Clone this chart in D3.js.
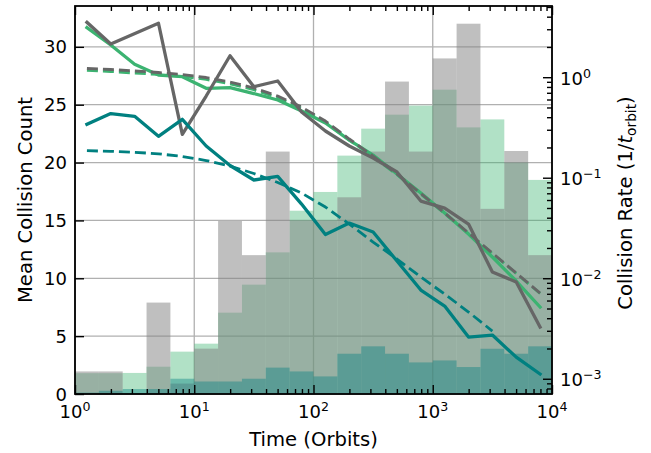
<!DOCTYPE html>
<html><head><meta charset="utf-8">
<script src="https://cdn.jsdelivr.net/npm/d3@7"></script>
<style>body{margin:0;background:#fff} svg{display:block} text{font-family:"DejaVu Sans",sans-serif;fill:#000}</style>
</head><body><div id="chart"></div>
<script>
// ---- data ----
const binEdges = [1, 1.585, 2.512, 3.981, 6.310, 10, 15.85, 25.12, 39.81, 63.10, 100, 158.5, 251.2, 398.1, 631.0, 1000, 1585, 2512, 3981, 6310, 10000];
const binCenters = [1.259, 1.995, 3.162, 5.012, 7.943, 12.59, 19.95, 31.62, 50.12, 79.43, 125.9, 199.5, 316.2, 501.2, 794.3, 1259, 1995, 3162, 5012, 7943];
const greyCounts  = [1.95, 1.95, 0, 7.9, 0.9, 3.92, 14.95, 12.0, 20.95, 15.0, 15.0, 17.0, 20.95, 27.0, 20.95, 29.0, 32.0, 16.0, 21.0, 12.0];
const greenCounts = [1.8, 1.8, 1.82, 2.36, 3.66, 4.35, 7.03, 9.45, 12.24, 15.84, 17.46, 20.6, 22.93, 24.14, 24.92, 26.3, 23.04, 23.73, 20.0, 18.5];
const tealCounts  = [0.12, 0.28, 0.43, 0.43, 1.32, 1.08, 1.08, 1.32, 2.28, 1.95, 1.52, 3.48, 4.12, 3.48, 2.73, 2.9, 2.33, 3.91, 3.48, 4.12];
const greyRate  = [3.52, 2.14, null, 3.44, 0.270, 0.650, 1.636, 0.804, 0.917, 0.450, 0.2915, 0.2067, 0.157, 0.1139, 0.0586, 0.0499, 0.0346, 0.01153, 0.00917, 0.00327];
const greenRate = [3.12, 2.09, 1.344, 1.052, 1.012, 0.775, 0.786, 0.688, 0.593, 0.461, 0.350, 0.237, 0.168, 0.1088, 0.0704, 0.0445, 0.0275, 0.01625, 0.00938, 0.00517];
const tealRate  = [0.340, 0.435, 0.408, 0.258, 0.381, 0.2067, 0.1322, 0.0949, 0.1032, 0.0547, 0.0272, 0.0354, 0.0288, 0.01483, 0.00763, 0.00529, 0.0026, 0.00272, 0.00164, 0.001113];
const greyFit  = [1.221, 1.193, 1.153, 1.114, 1.064, 0.993, 0.896, 0.781, 0.650, 0.505, 0.3665, 0.2427, 0.1644, 0.1088, 0.0696, 0.0445, 0.0282, 0.0178, 0.01126, 0.00712];
const greenFit = [1.17, 1.14, 1.10, 1.065, 1.02, 0.95, 0.86, 0.75, 0.625, 0.49, 0.357, 0.237, 0.161, 0.107, 0.0686, 0.0440, 0.0279, 0.0176, 0.01115, 0.00705];
const tealFit  = [0.1856, 0.1831, 0.179, 0.1729, 0.1626, 0.1483, 0.1307, 0.1101, 0.0896, 0.0704, 0.0511, 0.0346, 0.0229, 0.01552, 0.01028, 0.00696, 0.00461, 0.00298];
const xTickValues = [1, 10, 100, 1000, 10000];
const xTickExponents = ["0", "1", "2", "3", "4"];
const leftTickValues = [0, 5, 10, 15, 20, 25, 30];
const rightTickValues = [0.001, 0.01, 0.1, 1];
const rightTickExponents = ["\u22123", "\u22122", "\u22121", "0"];
const xLabel = "Time (Orbits)";
const yLeftLabel = "Mean Collision Count";

// ---- layout ----
const W = 651, H = 453;
const L = 75, R = 552, T = 6, B = 394;
const x = d3.scaleLog().domain([1, 1e4]).range([L, R]);
const yL = d3.scaleLinear().domain([0, 33.53]).range([B, T]);
const yR = d3.scaleLog().domain([7.05e-4, 5.11]).range([B, T]);

const svg = d3.select("#chart").append("svg").attr("width", W).attr("height", H);
svg.append("defs").append("clipPath").attr("id", "clip")
  .append("rect").attr("x", L).attr("y", T).attr("width", R - L).attr("height", B - T);

// grid
const grid = svg.append("g").attr("stroke", "#b0b0b0").attr("stroke-width", 1.3);
grid.selectAll("line.v").data(xTickValues).join("line")
  .attr("x1", d => x(d)).attr("x2", d => x(d)).attr("y1", T).attr("y2", B);
grid.selectAll("line.h").data(leftTickValues).join("line")
  .attr("x1", L).attr("x2", R).attr("y1", d => yL(d)).attr("y2", d => yL(d));

// histograms
const plot = svg.append("g").attr("clip-path", "url(#clip)");
function hist(vals, color, op) {
  plot.append("g").selectAll("rect").data(vals).join("rect")
    .attr("x", (d, i) => x(binEdges[i]))
    .attr("width", (d, i) => x(binEdges[i + 1]) - x(binEdges[i]))
    .attr("y", d => yL(d)).attr("height", d => yL(0) - yL(d))
    .attr("fill", color).attr("fill-opacity", op);
}
hist(greenCounts, "#3cb371", 0.4);
hist(greyCounts, "#808080", 0.5);
hist(tealCounts, "#008080", 0.4);

// lines
function line(vals, color, dashed, w) {
  const pts = vals.map((v, i) => [binCenters[i], v]).filter(p => p[1] != null);
  plot.append("path").datum(pts)
    .attr("d", d3.line().x(p => x(p[0])).y(p => yR(p[1])))
    .attr("fill", "none").attr("stroke", color).attr("stroke-width", w)
    .attr("stroke-linejoin", "round")
    .attr("stroke-linecap", dashed ? "butt" : "square")
    .attr("stroke-dasharray", dashed ? "11,5" : null);
}
line(greenRate, "#3cb371", false, 3.3);
line(greenFit, "#3cb371", true, 2.8);
line(greyRate, "#666666", false, 3.3);
line(greyFit, "#666666", true, 2.8);
line(tealRate, "#008080", false, 3.3);
line(tealFit, "#008080", true, 2.8);

// minor tick values
const xMinor = [];
[1, 10, 100, 1000].forEach(d => { for (let k = 2; k <= 9; k++) xMinor.push(d * k); });
const rMinor = [];
[1e-4, 1e-3, 1e-2, 1e-1, 1].forEach(d => { for (let k = 2; k <= 9; k++) { const v = d * k; if (v > 7.05e-4 && v < 5.11) rMinor.push(v); } });

function tickAxis(axis, tr) {
  const g = svg.append("g").attr("transform", tr).call(axis);
  g.select(".domain").remove();
  g.selectAll("line").attr("stroke", "#000").attr("stroke-width", 1.4);
  g.selectAll("text").remove();
  return g;
}
tickAxis(d3.axisBottom(x).tickValues(xTickValues).tickSize(-9), `translate(0,${B})`);
tickAxis(d3.axisBottom(x).tickValues(xMinor).tickSize(-5), `translate(0,${B})`);
tickAxis(d3.axisTop(x).tickValues(xTickValues).tickSize(-9), `translate(0,${T})`);
tickAxis(d3.axisTop(x).tickValues(xMinor).tickSize(-5), `translate(0,${T})`);
tickAxis(d3.axisLeft(yL).tickValues(leftTickValues).tickSize(-9), `translate(${L},0)`);
tickAxis(d3.axisRight(yR).tickValues(rightTickValues).tickSize(-9), `translate(${R},0)`);
tickAxis(d3.axisRight(yR).tickValues(rMinor).tickSize(-5), `translate(${R},0)`);

// spines
svg.append("rect").attr("x", L).attr("y", T).attr("width", R - L).attr("height", B - T)
  .attr("fill", "none").attr("stroke", "#000").attr("stroke-width", 1.8);

// tick labels
const FS = 18;
xTickValues.forEach((v, i) => {
  const t = svg.append("text").attr("x", x(v)).attr("y", 418).attr("text-anchor", "middle").attr("font-size", FS);
  t.append("tspan").text("10");
  t.append("tspan").attr("dy", -7).attr("font-size", FS * 0.7).text(xTickExponents[i]);
});
leftTickValues.forEach(v => {
  svg.append("text").attr("x", 67).attr("y", yL(v) + 6.5).attr("text-anchor", "end")
    .attr("font-size", FS).text(v);
});
rightTickValues.forEach((v, i) => {
  const t = svg.append("text").attr("x", 560).attr("y", yR(v) + 7.5).attr("font-size", FS);
  t.append("tspan").text("10");
  t.append("tspan").attr("dy", -7).attr("font-size", FS * 0.7).text(rightTickExponents[i]);
});

// axis labels
const LFS = 19.6;
svg.append("text").attr("x", (L + R) / 2).attr("y", 446).attr("text-anchor", "middle")
  .attr("font-size", LFS).text(xLabel);
svg.append("text").attr("transform", `translate(31.5,${(T + B) / 2}) rotate(-90)`)
  .attr("text-anchor", "middle").attr("font-size", LFS).text(yLeftLabel);
const rl = svg.append("text").attr("transform", `translate(632,${(T + B) / 2 + 3}) rotate(-90)`)
  .attr("text-anchor", "middle").attr("font-size", LFS);
rl.append("tspan").text("Collision Rate (1/");
rl.append("tspan").attr("font-style", "italic").text("t");
rl.append("tspan").attr("dy", 4).attr("font-size", LFS * 0.7).text("orbit");
rl.append("tspan").attr("dy", -4).text(")");
</script>
</body></html>
